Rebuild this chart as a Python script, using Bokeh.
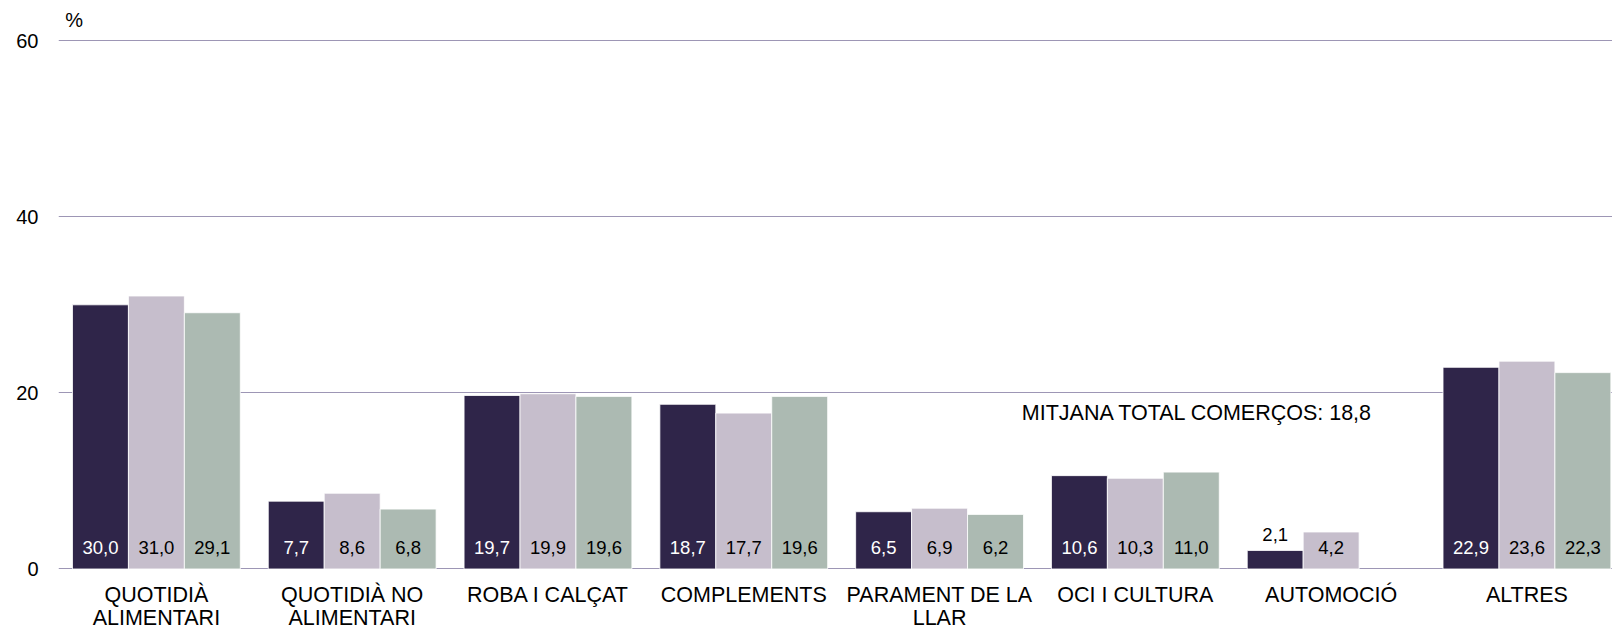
import math
from bokeh.plotting import figure
from bokeh.models import ColumnDataSource, Range1d, FixedTicker
from bokeh.embed import file_html
from bokeh.resources import INLINE
from bokeh.core.properties import value

# ---- data ----
categories = ["QUOTIDIÀ\nALIMENTARI", "QUOTIDIÀ NO\nALIMENTARI", "ROBA I CALÇAT",
              "COMPLEMENTS", "PARAMENT DE LA\nLLAR", "OCI I CULTURA",
              "AUTOMOCIÓ", "ALTRES"]
series_1 = [30.0, 7.7, 19.7, 18.7, 6.5, 10.6, 2.1, 22.9]
series_2 = [31.0, 8.6, 19.9, 17.7, 6.9, 10.3, 4.2, 23.6]
series_3 = [29.1, 6.8, 19.6, 19.6, 6.2, 11.0, float("nan"), 22.3]
average_total = 18.8
average_label = "MITJANA TOTAL COMERÇOS: 18,8"
y_ticks = [0, 20, 40, 60]
y_unit = "%"

# ---- style ----
FONT = "Liberation Sans"
bar_colors = ["#2f2549", "#c6becc", "#acbab2"]
label_colors = ["#ffffff", "#000000", "#000000"]
grid_color = "#9d96b5"
bw = 1.0 / 3.5
offsets = [-bw, 0.0, bw]

p = figure(width=1612, height=628, output_backend="svg", toolbar_location=None,
           x_range=Range1d(-0.5, 7.437), y_range=Range1d(-6.76, 64.56),
           x_axis_location=None, min_border_left=58, min_border_right=0,
           min_border_top=0, min_border_bottom=0)
p.outline_line_color = None
p.background_fill_color = "white"
p.border_fill_color = "white"
p.xgrid.visible = False

ticker = FixedTicker(ticks=y_ticks)
p.yaxis.ticker = ticker
p.ygrid.ticker = ticker
p.ygrid.grid_line_color = grid_color
p.ygrid.grid_line_width = 1
p.yaxis.axis_line_color = None
p.yaxis.major_tick_line_color = None
p.yaxis.minor_tick_line_color = None
p.yaxis.major_tick_out = 0
p.yaxis.major_tick_in = 0
p.yaxis.minor_tick_out = 0
p.yaxis.major_label_standoff = 20
p.yaxis.major_label_text_font = FONT
p.yaxis.major_label_text_font_size = "20px"
p.yaxis.major_label_text_color = "#000000"

all_series = [series_1, series_2, series_3]
lx, ly, lt, lc = [], [], [], []
for k, vals in enumerate(all_series):
    xs = [i + offsets[k] for i in range(len(categories))]
    src = ColumnDataSource(dict(x=xs, top=vals))
    p.vbar(x="x", top="top", bottom=0, width=bw, source=src,
           fill_color=bar_colors[k], line_color="white", line_width=0.8)
    for x, v in zip(xs, vals):
        if v is None or math.isnan(v):
            continue
        lx.append(x)
        if v < 3:
            ly.append(v + 1.85)
            lc.append("#000000")
        else:
            ly.append(2.48)
            lc.append(label_colors[k])
        lt.append(f"{v:.1f}".replace(".", ","))

p.text(x=lx, y=ly, text=lt, text_color=lc, text_align="center",
       text_baseline="alphabetic", text_font=value(FONT), text_font_size="18.5px")

# category labels
p.text(x=list(range(len(categories))), y=[-1.58] * len(categories), text=categories,
       text_align="center", text_baseline="top", text_font=value(FONT),
       text_font_size="21.5px", text_line_height=0.95, text_color="#000000")

# average annotation
p.text(x=[4.42], y=[average_total - 1.1], text=[average_label], text_align="left",
       text_baseline="alphabetic", text_font=value(FONT), text_font_size="21.5px",
       text_color="#000000")

# unit label
p.text(x=[-0.465], y=[62.36], text=[y_unit], text_align="left",
       text_baseline="alphabetic", text_font=value(FONT), text_font_size="20px",
       text_color="#000000")

open("out.html", "w").write(file_html(p, INLINE))
